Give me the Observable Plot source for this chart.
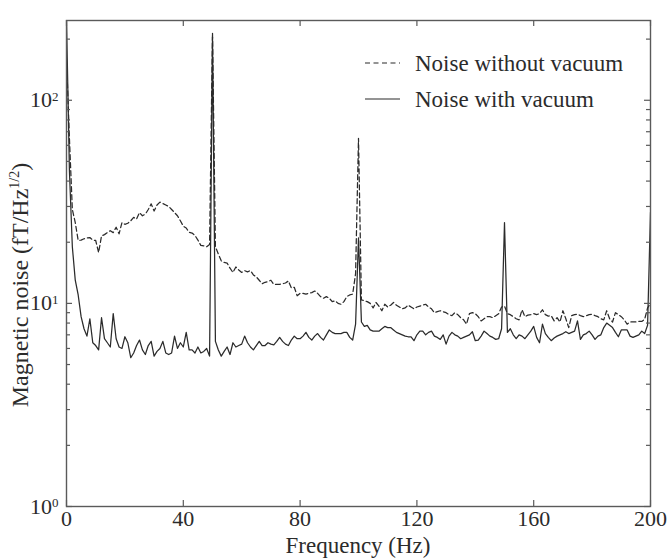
<!DOCTYPE html>
<html>
<head>
<meta charset="utf-8">
<script src="https://cdn.jsdelivr.net/npm/d3@7"></script>
<script src="https://cdn.jsdelivr.net/npm/@observablehq/plot@0.6"></script>
<style>
  body { margin: 0; background: #fff; }
  #chart svg { display: block; font-family: "Liberation Serif", "Times New Roman", serif; }
</style>
</head>
<body>
<div id="chart"></div>
<script>
// Frequency sampling (Hz)
const freq = [
  0,1,2,3,4,5,6,7,8,9,10,11,12,13,14,15,16,17,18,19,
  20,21,22,23,24,25,26,27,28,29,30,31,32,33,34,35,36,37,38,39,
  40,41,42,43,44,45,46,47,48,49,50,51,52,53,54,55,56,57,58,59,
  60,61,62,63,64,65,66,67,68,69,70,71,72,73,74,75,76,77,78,79,
  80,81,82,83,84,85,86,87,88,89,90,91,92,93,94,95,96,97,98,99,
  100,101,102,103,104,105,106,107,108,109,110,111,112,113,114,115,116,117,118,119,
  120,121,122,123,124,125,126,127,128,129,130,131,132,133,134,135,136,137,138,139,
  140,141,142,143,144,145,146,147,148,149,150,151,152,153,154,155,156,157,158,159,
  160,161,162,163,164,165,166,167,168,169,170,171,172,173,174,175,176,177,178,179,
  180,181,182,183,184,185,186,187,188,189,190,191,192,193,194,195,196,197,198,199,
  200
];

// Magnetic noise without vacuum (fT/Hz^1/2), dashed
const noiseWithoutVacuum = [
  160,65,29,25,20.4,20.5,20.8,21,21.1,20.5,20.4,17.8,21.5,21.8,22.3,22.8,22.3,23.7,22,25,
  24.5,24.8,25.5,26.5,26,28,27,27.5,29,30.9,28.5,30.5,31.5,31,30.5,30,29,28,27,25.5,
  24,23.5,22.4,22.2,21.6,20.5,19.3,19.2,19,19.5,215,19,17.5,16.2,15.9,15.8,14.9,14.2,15.1,14.6,
  14.2,14.5,14.3,14.5,13.8,13.5,13.0,12.5,12.7,12.8,13,12.4,12.4,12.4,12.5,12.6,12.9,11.9,12.0,10.9,
  11.2,11.2,11.1,11.2,11.3,11.5,11.2,10.8,10.6,10.8,10.6,10.2,10.3,10.0,9.9,10.2,10.8,11.0,11.1,14,
  65,10.4,10.3,10.2,10.0,9.5,10.1,9.7,9.2,9.9,9.6,9.8,10.1,9.8,9.6,9.4,9.5,9.8,9.6,9.4,
  9.6,9.7,9.8,9.9,9.6,9.4,9.0,9.1,9.2,9.1,9.0,8.8,8.7,9.0,8.8,8.5,8.3,7.9,8.9,9.0,
  8.9,8.6,8.2,8.4,8.6,8.6,8.5,8.7,8.9,9.6,9.7,8.9,8.8,8.6,8.4,8.3,9.3,8.6,8.75,8.8,
  8.9,8.8,8.9,9.3,8.8,8.65,8.7,8.2,8.5,8.1,9.2,8.4,7.6,8.7,8.8,8.85,8.7,8.6,8.7,8.8,
  8.85,8.7,8.6,8.4,8.3,9.2,8.4,8.1,9.0,8.8,8.6,8.3,7.9,8.1,8.1,8.1,8.15,8.15,8.35,9.5,
  10
];

// Magnetic noise with vacuum (fT/Hz^1/2), solid
const noiseWithVacuum = [
  250,45,19,13,11,8.6,7.5,6.9,8.4,6.4,6.2,5.9,8.5,6.7,6.4,6.1,8.9,6.7,6.1,6.0,
  6.85,6.4,5.4,5.7,6.2,6.6,5.9,5.6,6.2,6.5,5.5,5.8,6.0,6.5,5.7,5.6,5.7,6.9,6.0,6.4,
  6.1,7.2,5.9,5.9,5.7,6.1,5.7,5.8,6.0,5.5,205,6.5,5.9,5.5,5.8,6.1,5.6,6.4,6.1,6.2,
  6.3,6.9,6.4,6.1,5.9,6.2,6.5,6.2,6.2,6.4,6.3,6.25,6.5,6.8,6.5,6.3,6.2,6.6,6.9,6.7,
  6.7,6.9,7.2,6.8,6.6,6.9,7.1,6.8,6.6,7.0,7.4,7.2,7.1,7.1,7.1,7.2,7.2,6.8,6.6,7.9,
  21,8.1,7.7,7.8,7.4,7.3,7.3,7.3,7.5,7.7,7.6,7.6,7.4,7.2,7.1,7.0,6.9,6.85,6.85,6.55,
  7.0,7.3,7.3,7.0,7.2,7.3,6.9,6.8,6.65,7.0,6.3,6.9,7.2,7.0,6.9,6.7,6.8,6.9,7.0,7.25,
  6.55,6.6,6.9,7.3,7.1,6.9,6.8,6.65,6.7,7.5,25,7.2,7.5,7.0,6.7,7.0,6.9,6.7,7.0,7.3,
  7.7,6.8,6.4,7.9,7.1,6.8,6.55,6.75,6.9,7.0,7.1,7.25,7.1,7.2,7.3,8.2,6.65,7.0,7.1,7.3,
  7.0,6.65,6.9,7.0,7.6,8.0,7.8,7.6,7.2,6.85,7.4,7.4,7.4,6.9,6.8,6.9,7.0,7.3,7.1,7.8,
  28
];

const seriesNames = ["Noise without vacuum", "Noise with vacuum"];
const xTicks = [0, 40, 80, 120, 160, 200];
const yMajor = [1, 10, 100];
const yMinor = [2, 3, 4, 5, 6, 7, 8, 9, 20, 30, 40, 50, 60, 70, 80, 90, 200];
const xLabel = "Frequency (Hz)";

const W = 668, H = 558;
const mL = 66, mR = 18, mT = 20, mB = 52;
const pw = W - mL - mR, ph = H - mT - mB;
const ink = "#2b2b2b";
const frameInk = "#5a5a5a";

const chart = Plot.plot({
  width: W,
  height: H,
  marginLeft: mL,
  marginRight: mR,
  marginTop: mT,
  marginBottom: mB,
  style: { fontFamily: "'Liberation Serif', 'Times New Roman', serif", color: ink, background: "#fff", overflow: "visible" },
  x: { domain: [0, 200] },
  y: { type: "log", domain: [1, 247] },
  marks: [
    Plot.line(noiseWithVacuum, { x: (d, i) => freq[i], y: d => d, stroke: ink, strokeWidth: 1.25, clip: true }),
    Plot.line(noiseWithoutVacuum, { x: (d, i) => freq[i], y: d => d, stroke: ink, strokeWidth: 1.25, strokeDasharray: "5,3", clip: true }),
    Plot.frame({ stroke: frameInk, strokeWidth: 1.4 }),
    // inward ticks
    Plot.tickX(xTicks, { x: d => d, insetTop: ph - 6, stroke: frameInk, strokeWidth: 1.2 }),
    Plot.tickX(xTicks, { x: d => d, insetBottom: ph - 6, stroke: frameInk, strokeWidth: 1.2 }),
    Plot.tickY(yMajor, { y: d => d, insetRight: pw - 6, stroke: frameInk, strokeWidth: 1.2 }),
    Plot.tickY(yMinor, { y: d => d, insetRight: pw - 4, stroke: frameInk, strokeWidth: 1.2 }),
    Plot.tickY(yMajor, { y: d => d, insetLeft: pw - 6, stroke: frameInk, strokeWidth: 1.2 }),
    Plot.tickY(yMinor, { y: d => d, insetLeft: pw - 4, stroke: frameInk, strokeWidth: 1.2 }),
    Plot.axisX(xTicks, { tickSize: 0, tickPadding: 4, fontSize: 22, label: null, fill: ink }),
    Plot.axisY(yMajor, { tickSize: 0, tickPadding: 8, fontSize: 22, label: null, fill: ink, tickFormat: d => String(Math.round(Math.log10(d))) })
  ]
});

document.getElementById("chart").appendChild(chart);

const svg = d3.select(chart);

// y tick labels as 10^n with superscript
svg.selectAll('g[aria-label="y-axis tick label"] text').each(function () {
  const e = this.textContent;
  const t = d3.select(this);
  t.text(null);
  t.append("tspan").text("10");
  t.append("tspan").attr("font-size", 13).attr("dy", -6.5).text(e);
});

// x label
svg.append("text")
  .attr("x", mL + pw / 2).attr("y", 553)
  .attr("text-anchor", "middle")
  .attr("font-size", 23).attr("fill", ink)
  .text(xLabel);

// y label with superscript
const yl = svg.append("text")
  .attr("transform", `translate(28,${285}) rotate(-90)`)
  .attr("text-anchor", "middle")
  .attr("font-size", 24).attr("fill", ink);
yl.append("tspan").text("Magnetic noise (fT/Hz");
yl.append("tspan").attr("font-size", 14).attr("dy", -9).text("1/2");
yl.append("tspan").attr("dy", 9).text(")");

// legend
const legend = svg.append("g").attr("text-anchor", "start");
const legendItems = [
  { name: seriesNames[0], dash: "5,3.5", y: 63 },
  { name: seriesNames[1], dash: null, y: 99 }
];
legendItems.forEach(it => {
  legend.append("line")
    .attr("x1", 365).attr("x2", 400).attr("y1", it.y).attr("y2", it.y)
    .attr("stroke", ink).attr("stroke-width", 1.2)
    .attr("stroke-dasharray", it.dash);
  legend.append("text")
    .attr("x", 415).attr("y", it.y + 7.5)
    .attr("text-anchor", "start")
    .attr("font-size", 23).attr("fill", ink)
    .text(it.name);
});
</script>
</body>
</html>
